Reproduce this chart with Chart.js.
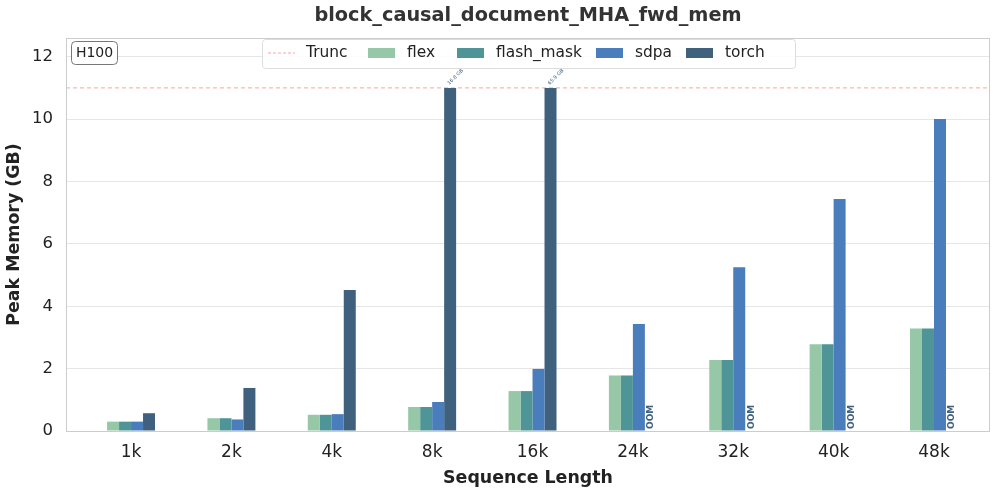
<!DOCTYPE html>
<html>
<head>
<meta charset="utf-8">
<script src="https://cdn.jsdelivr.net/npm/chart.js@4.4.0/dist/chart.umd.min.js"></script>
<style>
    html, body { margin: 0; padding: 0; background: #fff; }
    #wrap { width: 997px; height: 493px; }
</style>
</head>
<body>
<div id="wrap"><canvas id="chart" width="997" height="493"></canvas></div>
<script>
// 数据
const categories = ['1k', '2k', '4k', '8k', '16k', '24k', '32k', '40k', '48k'];
const flexMem = [0.30, 0.41, 0.52, 0.77, 1.28, 1.78, 2.28, 2.78, 3.29];
const flashMaskMem = [0.30, 0.41, 0.52, 0.77, 1.28, 1.78, 2.28, 2.78, 3.29];
const sdpaMem = [0.30, 0.37, 0.54, 0.93, 1.99, 3.43, 5.25, 7.44, 10.0];
const torchMem = [0.57, 1.38, 4.52, 11.0, 11.0, null, null, null, null];
const torchLabels = [null, null, null, '16.8 GB', '65.9 GB', 'OOM', 'OOM', 'OOM', 'OOM'];
const truncLimit = 11;
const yTicks = [0, 2, 4, 6, 8, 10, 12];

const FONT = '"DejaVu Sans", sans-serif';
const colors = {
    flex: '#96c7a7',
    flash_mask: '#4f9598',
    sdpa: '#4a7dbb',
    torch: '#3f617d'
};
const truncColor = 'rgba(255,100,100,0.6)';

function toPoints(arr) {
    return arr.map((v, i) => ({ x: i, y: v }));
}

// 自定义绘制:边框、截断线、图例、标注
const decorPlugin = {
    id: 'decor',
    beforeDatasetsDraw(chart) {
        const { ctx, chartArea: a, scales } = chart;
        const y = scales.y.getPixelForValue(truncLimit);
        ctx.save();
        ctx.strokeStyle = truncColor;
        ctx.lineWidth = 1;
        ctx.setLineDash([4, 3]);
        ctx.beginPath();
        ctx.moveTo(a.left, y);
        ctx.lineTo(a.right, y);
        ctx.stroke();
        ctx.restore();
    },
    afterDatasetsDraw(chart) {
        const { ctx, chartArea: a, scales } = chart;
        const meta = chart.getDatasetMeta(3);
        const metaSdpa = chart.getDatasetMeta(2);

        // torch 标注
        torchLabels.forEach((lab, i) => {
            if (!lab) return;
            ctx.save();
            if (lab === 'OOM') {
                const x = metaSdpa.data[i].x + 12;
                ctx.translate(x, scales.y.getPixelForValue(0) - 2);
                ctx.rotate(-Math.PI / 2);
                ctx.font = 'bold 9px ' + FONT;
                ctx.fillStyle = '#3f617d';
                ctx.textAlign = 'left';
                ctx.textBaseline = 'middle';
                ctx.fillText(lab, 0, 0);
            } else {
                const bar = meta.data[i];
                ctx.translate(bar.x, bar.y - 2);
                ctx.rotate(-Math.PI / 4);
                ctx.font = '5px ' + FONT;
                ctx.fillStyle = '#3f617d';
                ctx.textAlign = 'left';
                ctx.textBaseline = 'bottom';
                ctx.fillText(lab, 0, 0);
            }
            ctx.restore();
        });

        // 边框
        ctx.save();
        ctx.strokeStyle = '#cccccc';
        ctx.lineWidth = 1;
        ctx.strokeRect(a.left + 0.5, a.top + 0.5, a.right - a.left - 1, a.bottom - a.top);
        ctx.restore();

        // H100 标签
        ctx.save();
        ctx.fillStyle = '#fff';
        ctx.strokeStyle = '#777';
        ctx.lineWidth = 1;
        ctx.beginPath();
        ctx.roundRect(71.5, 41.5, 46, 23, 4);
        ctx.fill();
        ctx.stroke();
        ctx.fillStyle = '#222';
        ctx.font = '14px ' + FONT;
        ctx.textAlign = 'center';
        ctx.textBaseline = 'middle';
        ctx.fillText('H100', 94.5, 53.5);
        ctx.restore();

        // 图例
        ctx.save();
        ctx.fillStyle = 'rgba(255,255,255,0.85)';
        ctx.strokeStyle = '#dddddd';
        ctx.beginPath();
        ctx.roundRect(262.5, 39.5, 533, 29, 3);
        ctx.fill();
        ctx.stroke();
        ctx.font = '15.4px ' + FONT;
        ctx.textBaseline = 'middle';
        ctx.fillStyle = '#222';
        const ly = 53;
        ctx.strokeStyle = truncColor;
        ctx.setLineDash([3, 2]);
        ctx.beginPath();
        ctx.moveTo(268, ly);
        ctx.lineTo(295, ly);
        ctx.stroke();
        ctx.setLineDash([]);
        ctx.fillText('Trunc', 306, ly);
        const items = [
            ['flex', 368, colors.flex],
            ['flash_mask', 457, colors.flash_mask],
            ['sdpa', 596, colors.sdpa],
            ['torch', 686, colors.torch]
        ];
        items.forEach(([name, x, c]) => {
            ctx.fillStyle = c;
            ctx.fillRect(x, ly - 5, 27, 10);
            ctx.fillStyle = '#222';
            ctx.fillText(name, x + 39, ly);
        });
        ctx.restore();

        // 标题
        ctx.save();
        ctx.font = 'bold 19.3px ' + FONT;
        ctx.fillStyle = '#333';
        ctx.textAlign = 'center';
        ctx.textBaseline = 'middle';
        ctx.fillText('block_causal_document_MHA_fwd_mem', (a.left + a.right) / 2, 16);
        ctx.restore();
    }
};

const barDefaults = {
    borderWidth: 0,
    categoryPercentage: 0.478,
    barPercentage: 1.0
};

new Chart(document.getElementById('chart'), {
    type: 'bar',
    data: {
        datasets: [
            { label: 'flex', data: toPoints(flexMem), backgroundColor: colors.flex, ...barDefaults },
            { label: 'flash_mask', data: toPoints(flashMaskMem), backgroundColor: colors.flash_mask, ...barDefaults },
            { label: 'sdpa', data: toPoints(sdpaMem), backgroundColor: colors.sdpa, ...barDefaults },
            { label: 'torch', data: toPoints(torchMem), backgroundColor: colors.torch, ...barDefaults }
        ]
    },
    options: {
        responsive: false,
        animation: false,
        layout: { padding: { left: 0, right: 7, top: 38, bottom: 0 } },
        plugins: {
            legend: { display: false },
            tooltip: { enabled: false },
            title: { display: false }
        },
        scales: {
            x: {
                type: 'linear',
                offset: false,
                min: -0.648,
                max: 8.558,
                afterFit: s => { s.height = 62; },
                afterBuildTicks: s => { s.ticks = categories.map((_, i) => ({ value: i })); },
                grid: { display: false, drawTicks: false, offset: false },
                border: { display: false },
                ticks: {
                    padding: 11,
                    color: '#222',
                    font: { family: FONT, size: 17 },
                    callback: v => categories[v]
                },
                title: {
                    display: true,
                    text: 'Sequence Length',
                    color: '#222',
                    font: { family: FONT, size: 17.4, weight: 'bold' },
                    padding: { top: 0, bottom: 4 }
                }
            },
            y: {
                min: 0,
                max: 12.6,
                afterFit: s => { s.width = 66; },
                afterBuildTicks: s => { s.ticks = yTicks.map(v => ({ value: v })); },
                grid: { color: '#e6e6e6', drawTicks: false },
                border: { display: false },
                ticks: {
                    padding: 13,
                    color: '#222',
                    font: { family: FONT, size: 16.5 }
                },
                title: {
                    display: true,
                    text: 'Peak Memory (GB)',
                    color: '#222',
                    font: { family: FONT, size: 17.4, weight: 'bold' },
                    padding: { top: 4, bottom: 0 }
                }
            }
        }
    },
    plugins: [decorPlugin]
});
</script>
</body>
</html>
